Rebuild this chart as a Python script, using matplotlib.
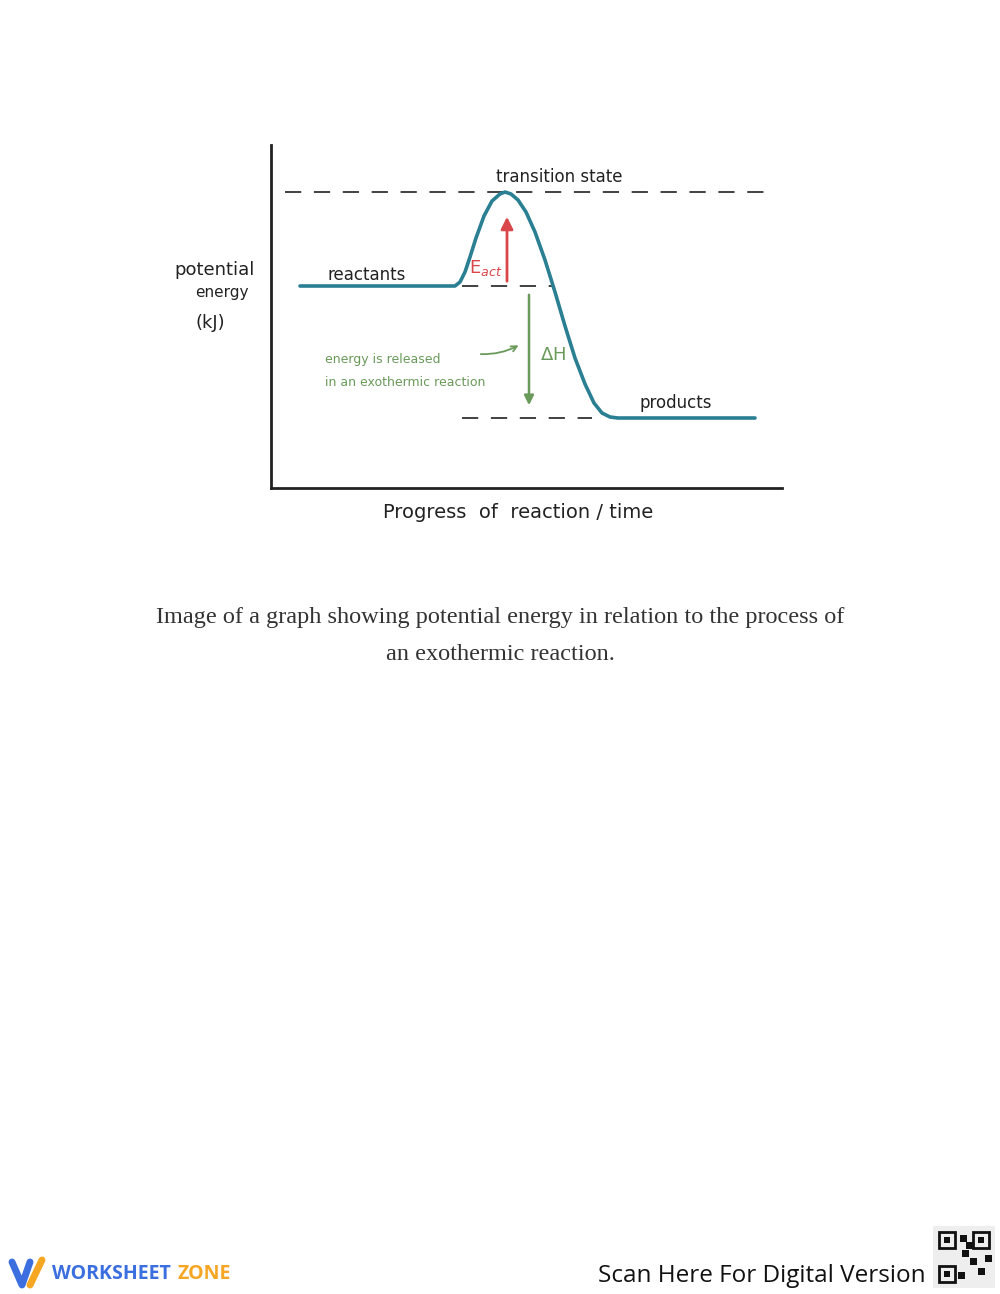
import matplotlib
matplotlib.use("Agg")
import matplotlib.pyplot as plt
from matplotlib.patches import Rectangle

# Data (in page pixel coordinates)
curve_x = [300, 455, 460, 465, 470, 476, 484, 492, 500, 505, 511, 518, 526, 535, 545, 555, 565, 575, 585, 594, 602, 610, 618, 755]
curve_y = [286, 286, 282, 272, 257, 238, 216, 201, 194, 192, 194, 200, 212, 232, 260, 292, 326, 358, 384, 403, 413, 417, 418, 418]
levels = {"transition": 192, "reactants": 286, "products": 418}
labels = ["transition state", "reactants", "products"]

fig = plt.figure(figsize=(10, 12.94), dpi=100)
ax = fig.add_axes([0, 0, 1, 1])
ax.set_xlim(0, 1000)
ax.set_ylim(1294, 0)
ax.axis("off")

hand = "DejaVu Sans"
ax.plot([271, 271], [145, 488], color="#222", lw=2)
ax.plot([271, 782], [488, 488], color="#222", lw=2)
ax.plot([285, 772], [levels["transition"]] * 2, color="#333", lw=1.3, dashes=(9, 7))
ax.plot([462, 552], [levels["reactants"]] * 2, color="#333", lw=1.3, dashes=(9, 7))
ax.plot([462, 592], [levels["products"]] * 2, color="#333", lw=1.3, dashes=(9, 7))
ax.plot(curve_x, curve_y, color="#2a7f93", lw=2.6, solid_capstyle="round")
ax.annotate("", xy=(507, 214), xytext=(507, 284),
            arrowprops=dict(arrowstyle="-|>", color="#d9474a", lw=2, mutation_scale=18))
ax.annotate("", xy=(529, 408), xytext=(529, 292),
            arrowprops=dict(arrowstyle="-|>", color="#6a9a5a", lw=1.8, mutation_scale=14))
ax.annotate("", xy=(521, 344), xytext=(478, 354),
            arrowprops=dict(arrowstyle="->", color="#6a9a5a", lw=1.3,
                            connectionstyle="arc3,rad=0.15"))
ax.text(559, 177, labels[0], ha="center", va="center", fontsize=12, color="#222", family=hand)
ax.text(367, 275, labels[1], ha="center", va="center", fontsize=12, color="#222", family=hand)
ax.text(676, 403, labels[2], ha="center", va="center", fontsize=12, color="#222", family=hand)
ax.text(469, 268, r"E$_{act}$", ha="left", va="center", fontsize=13, color="#d9474a", family=hand)
ax.text(540, 355, r"$\Delta$H", ha="left", va="center", fontsize=13, color="#6a9a5a", family=hand)
ax.text(325, 359, "energy is released", ha="left", va="center", fontsize=9, color="#6a9a5a", family=hand)
ax.text(325, 383, "in an exothermic reaction", ha="left", va="center", fontsize=9, color="#6a9a5a", family=hand)
ax.text(215, 270, "potential", ha="center", va="center", fontsize=13, color="#222", family=hand)
ax.text(222, 293, "energy", ha="center", va="center", fontsize=11, color="#222", family=hand)
ax.text(210, 323, "(kJ)", ha="center", va="center", fontsize=13, color="#222", family=hand)
ax.text(518, 513, "Progress  of  reaction / time", ha="center", va="center", fontsize=14,
        color="#222", family=hand)

ax.text(500, 617, "Image of a graph showing potential energy in relation to the process of",
        ha="center", va="center", fontsize=17.5, color="#333", family="Liberation Serif")
ax.text(500, 654, "an exothermic reaction.", ha="center", va="center", fontsize=17.5,
        color="#333", family="Liberation Serif")

ax.plot([12, 22, 30], [1262, 1285, 1262], color="#3b6fe0", lw=5, solid_capstyle="round")
ax.plot([30, 42], [1285, 1260], color="#f5a623", lw=5, solid_capstyle="round")
ax.text(52, 1274, "WORKSHEET", ha="left", va="center", fontsize=14, color="#3b6fe0",
        weight="bold", family="Open Sans")
ax.text(178, 1274, "ZONE", ha="left", va="center", fontsize=14, color="#f5a623",
        weight="bold", family="Open Sans")
ax.text(926, 1276, "Scan Here For Digital Version", ha="right", va="center", fontsize=17.5,
        color="#111", family="Open Sans")
ax.add_patch(Rectangle((933, 1226), 62, 62, facecolor="#eee", edgecolor="none"))
for (qx, qy) in [(939, 1232), (973, 1232), (939, 1266)]:
    ax.add_patch(Rectangle((qx, qy), 16, 16, facecolor="none", edgecolor="#111", lw=2))
    ax.add_patch(Rectangle((qx + 5, qy + 5), 6, 6, facecolor="#111"))
for (qx, qy) in [(960, 1235), (962, 1250), (970, 1258), (978, 1268), (985, 1255), (958, 1272), (966, 1242)]:
    ax.add_patch(Rectangle((qx, qy), 7, 7, facecolor="#111"))

fig.savefig("out.png", dpi=100)
